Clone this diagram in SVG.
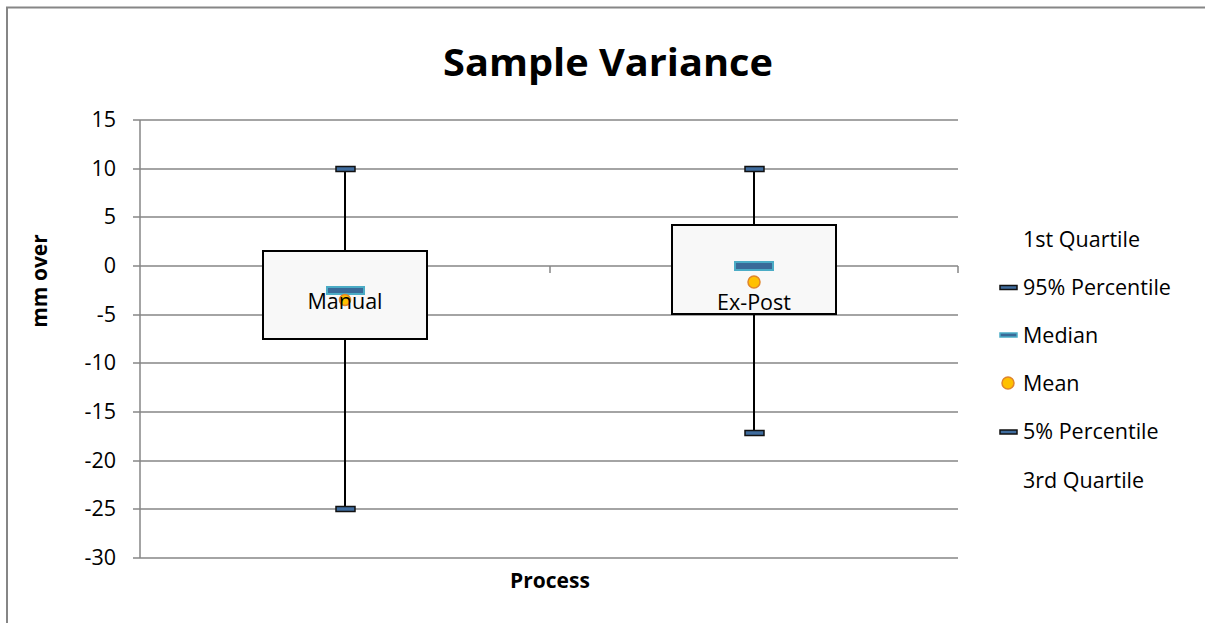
<svg xmlns="http://www.w3.org/2000/svg" width="1205" height="623" viewBox="0 0 1205 623">
<style>
.grid{stroke:#868686;stroke-width:1.5;fill:none}
.tick{font-family:"Open Sans","Liberation Sans",Arial,sans-serif;font-size:21.5px;fill:#000;text-anchor:end}
.lbl{font-family:"Open Sans","Liberation Sans",Arial,sans-serif;font-size:21.5px;fill:#000}
.box{fill:#f8f8f8;stroke:#000;stroke-width:2}
.whisk{stroke:#000;stroke-width:2}
.cap{fill:#3f6c9e;stroke:#111;stroke-width:1.5}
.med{fill:#3a6a98;stroke:#4bacc6;stroke-width:2}
.mean{fill:#ffc000;stroke:#e0852b;stroke-width:1.5}
.bold{font-family:"Open Sans","Liberation Sans",Arial,sans-serif;font-weight:bold;fill:#000}
</style>
<rect x="0" y="0" width="1205" height="623" fill="#fff"/>
<rect x="7" y="7.5" width="1300" height="700" fill="none" stroke="#868686" stroke-width="2"/>
<text class="bold" x="608" y="76" font-size="38" text-anchor="middle" textLength="330" lengthAdjust="spacingAndGlyphs">Sample Variance</text>
<g id="axes">
<line class="grid" x1="133" y1="120" x2="958" y2="120"/>
<line class="grid" x1="133" y1="169" x2="958" y2="169"/>
<line class="grid" x1="133" y1="217" x2="958" y2="217"/>
<line class="grid" x1="133" y1="266" x2="958" y2="266"/>
<line class="grid" x1="133" y1="315" x2="958" y2="315"/>
<line class="grid" x1="133" y1="363" x2="958" y2="363"/>
<line class="grid" x1="133" y1="412" x2="958" y2="412"/>
<line class="grid" x1="133" y1="461" x2="958" y2="461"/>
<line class="grid" x1="133" y1="509" x2="958" y2="509"/>
<line class="grid" x1="133" y1="558" x2="958" y2="558"/>
<line class="grid" x1="140" y1="120" x2="140" y2="558"/>
<line class="grid" x1="550" y1="266" x2="550" y2="273"/>
<line class="grid" x1="958" y1="266" x2="958" y2="273"/>
<text class="tick" x="116" y="127">15</text>
<text class="tick" x="116" y="176">10</text>
<text class="tick" x="116" y="224">5</text>
<text class="tick" x="116" y="273">0</text>
<text class="tick" x="116" y="322">-5</text>
<text class="tick" x="116" y="370">-10</text>
<text class="tick" x="116" y="419">-15</text>
<text class="tick" x="116" y="468">-20</text>
<text class="tick" x="116" y="516">-25</text>
<text class="tick" x="116" y="565">-30</text>
<text class="bold" font-size="21" x="0" y="0" text-anchor="middle" transform="translate(47,281) rotate(-90)">mm over</text>
<text class="bold" font-size="21" x="550" y="588" text-anchor="middle">Process</text>
</g>
<g id="connectors">
<line class="whisk" x1="345" y1="169" x2="345" y2="251"/>
<line class="whisk" x1="345" y1="339" x2="345" y2="509"/>
<line class="whisk" x1="754" y1="169" x2="754" y2="225"/>
<line class="whisk" x1="754" y1="314" x2="754" y2="433"/>
</g>
<g id="manual">
<rect class="box" x="263" y="251" width="164" height="88"/>
<rect class="cap" x="336" y="166.5" width="19" height="5"/>
<rect class="cap" x="336" y="506.5" width="19" height="5"/>
<rect class="med" x="327" y="287" width="37" height="7"/>
<circle class="mean" cx="345" cy="300" r="5.5"/>
<text class="lbl" x="345" y="309" text-anchor="middle">Manual</text>
</g>
<g id="expost">
<rect class="box" x="672" y="225" width="164" height="89"/>
<rect class="cap" x="745" y="166.5" width="19" height="5"/>
<rect class="cap" x="745" y="430.5" width="19" height="5"/>
<rect class="med" x="735" y="262" width="38" height="8"/>
<circle class="mean" cx="754" cy="282" r="6"/>
<text class="lbl" x="754" y="310" text-anchor="middle">Ex-Post</text>
</g>
<g id="legend">
<text class="lbl" x="1023" y="247">1st Quartile</text>
<rect class="cap" x="1000" y="285.5" width="17" height="4"/>
<text class="lbl" x="1023" y="295">95% Percentile</text>
<rect x="1000" y="333" width="17" height="4" fill="#3a6a98" stroke="#4bacc6" stroke-width="1.5"/>
<text class="lbl" x="1023" y="343">Median</text>
<circle class="mean" cx="1008" cy="383" r="6"/>
<text class="lbl" x="1023" y="391">Mean</text>
<rect class="cap" x="1000" y="430" width="17" height="4"/>
<text class="lbl" x="1023" y="439">5% Percentile</text>
<text class="lbl" x="1023" y="488">3rd Quartile</text>
</g>
</svg>
